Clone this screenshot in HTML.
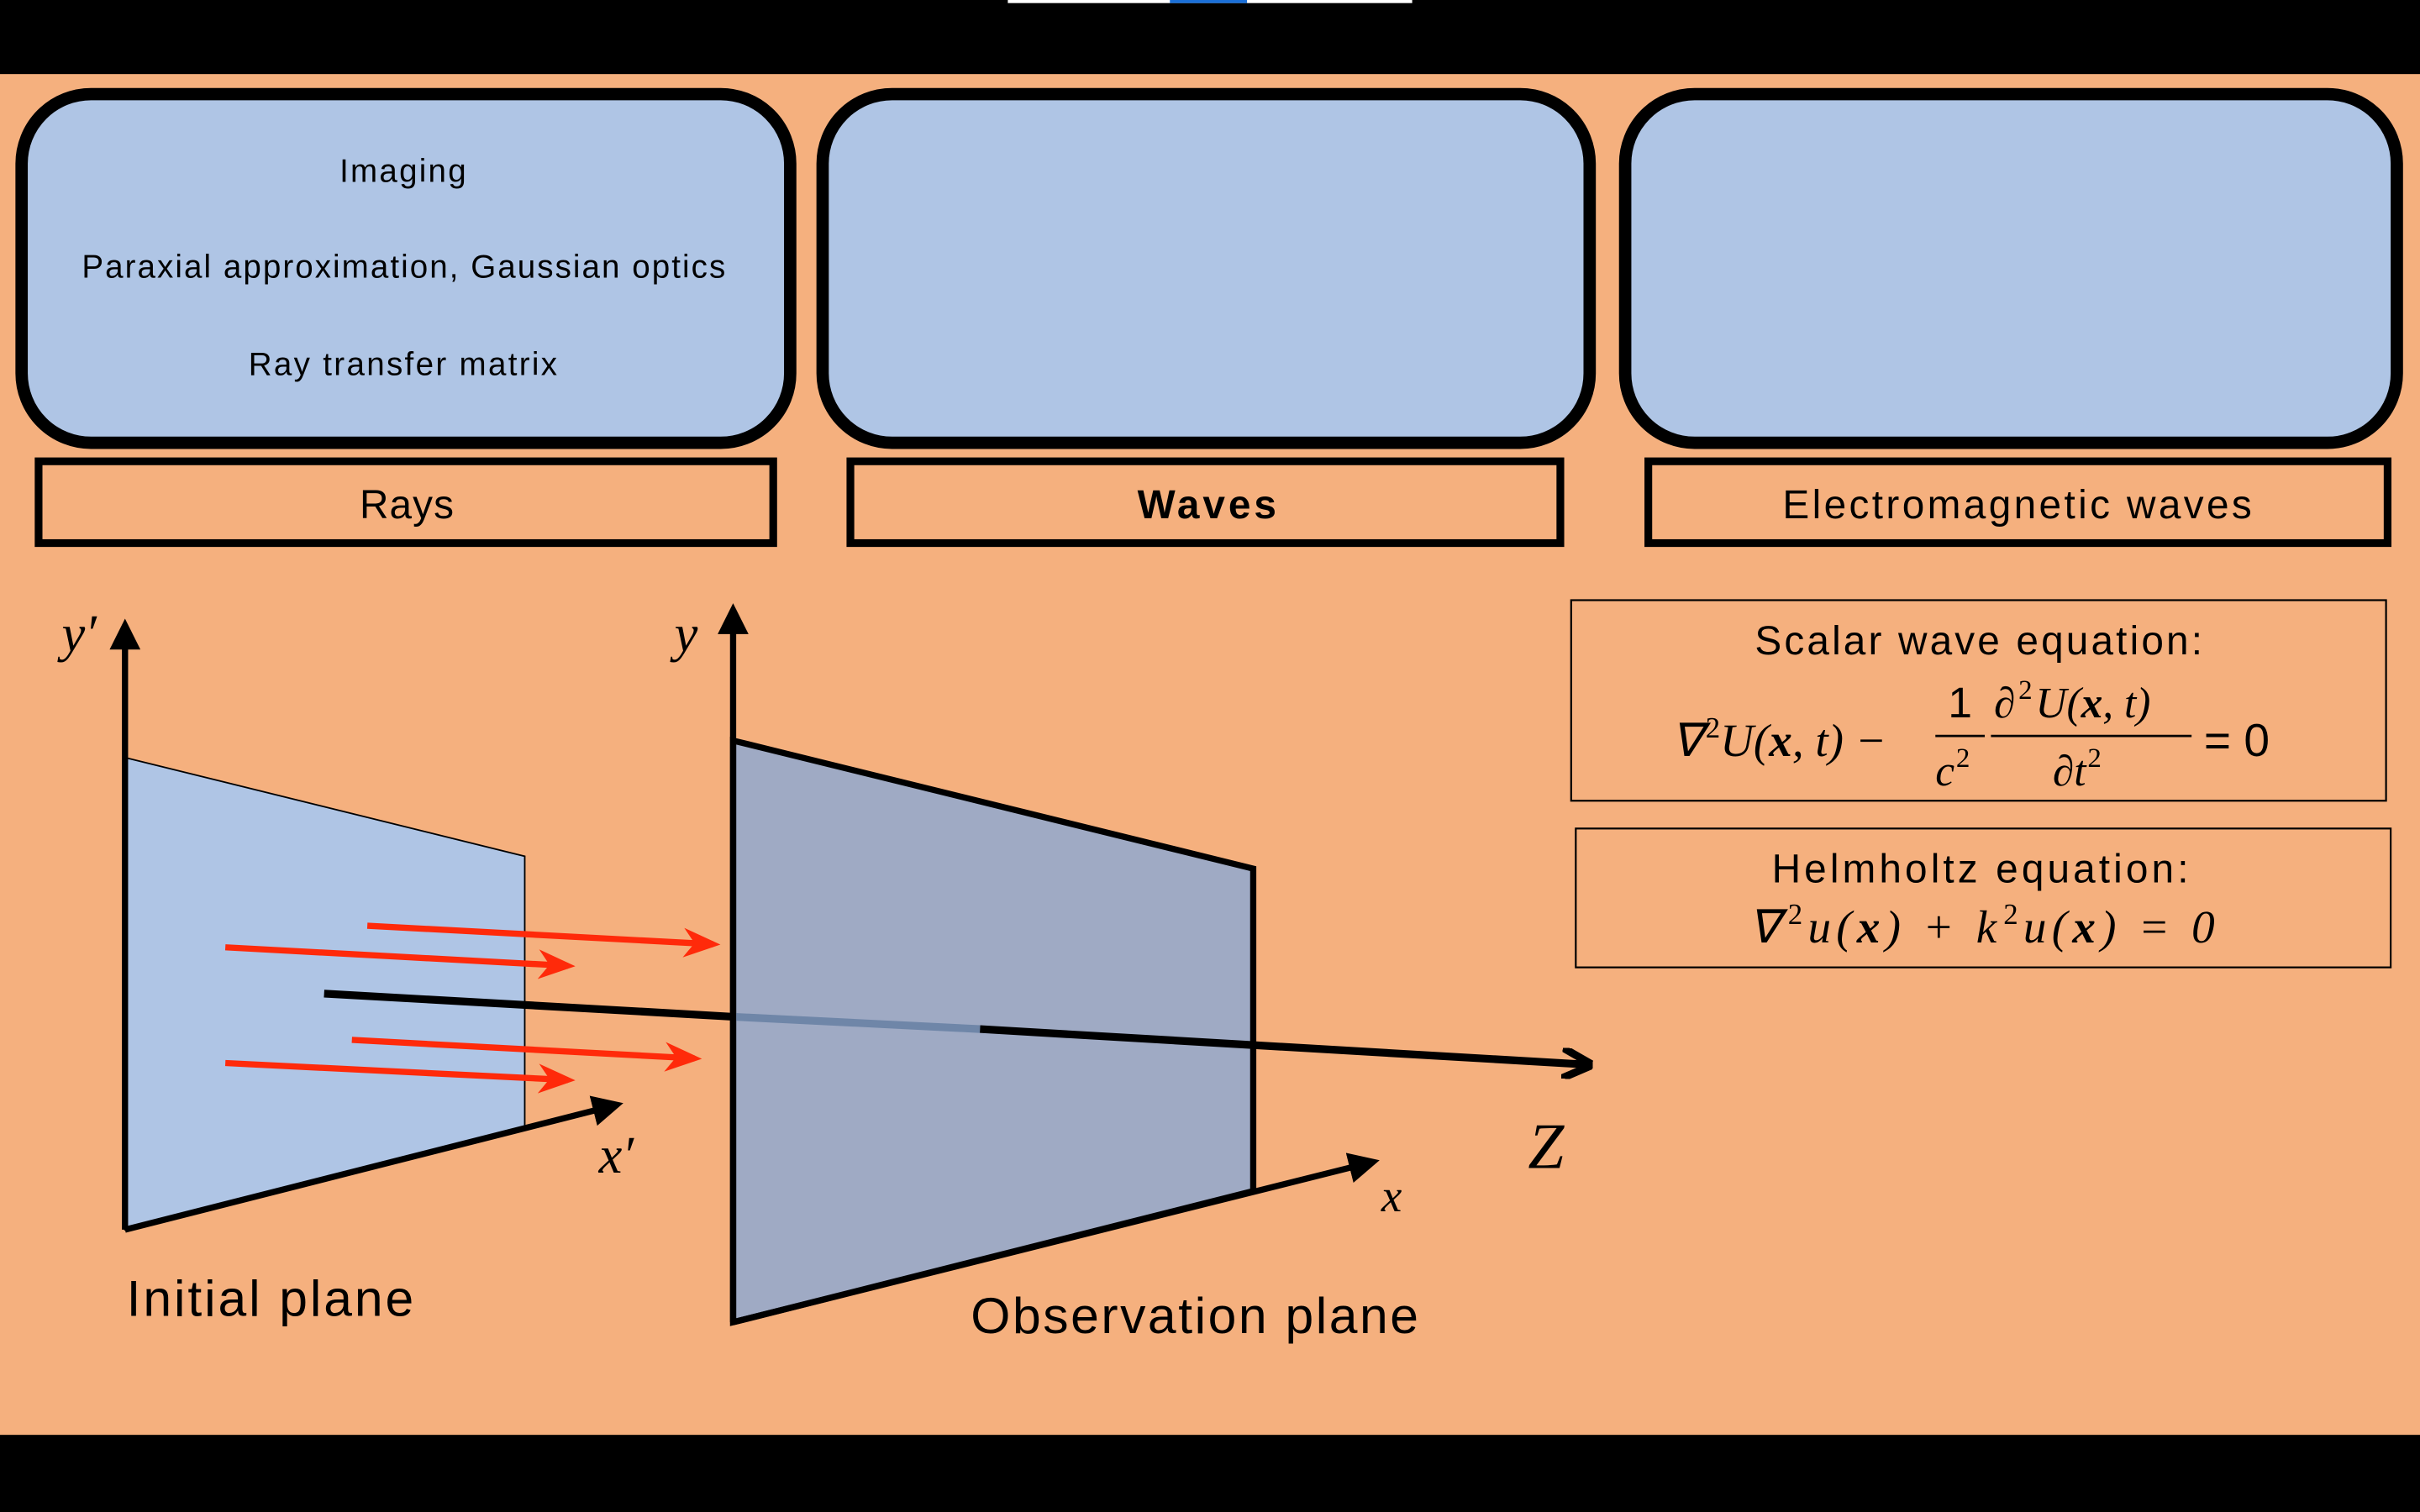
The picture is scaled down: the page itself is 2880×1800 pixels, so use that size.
<!DOCTYPE html>
<html><head><meta charset="utf-8"><style>
html,body{margin:0;padding:0;background:#000;}
svg{display:block;}
text{font-family:"Liberation Sans",sans-serif;fill:#000;}
.m{font-family:"Liberation Serif",serif;font-style:italic;}
</style></head><body>
<svg width="2880" height="1800" viewBox="0 0 1568 980" xmlns="http://www.w3.org/2000/svg">
<defs>
<marker id="ab" viewBox="0 0 10 10" refX="8" refY="5" markerWidth="5" markerHeight="5" orient="auto"><path d="M0,0 L10,5 L0,10 z" fill="#000"/></marker>
<marker id="ar" viewBox="0 0 10 10" refX="8" refY="5" markerWidth="6" markerHeight="6" orient="auto"><path d="M0,1 L10,5 L0,9 L3,5 z" fill="#ff2a0a"/></marker>
<marker id="az" viewBox="0 0 10 10" refX="8" refY="5" markerWidth="4" markerHeight="4" orient="auto"><path d="M0,0 L10,5 L0,10" fill="none" stroke="#000" stroke-width="2.5"/></marker>
</defs>
<rect x="0" y="0" width="1568" height="980" fill="#000"/>
<rect x="653" y="0" width="262" height="2" fill="#fff"/>
<rect x="758" y="0" width="50" height="2" fill="#1a6fd8"/>
<rect x="0" y="48" width="1568" height="882" fill="#F5B07E"/>

<g fill="#AFC5E5" stroke="#000" stroke-width="8">
<rect x="14" y="61" width="498" height="226" rx="45"/>
<rect x="533" y="61" width="497" height="226" rx="45"/>
<rect x="1053" y="61" width="500" height="226" rx="45"/>
</g>
<g fill="none" stroke="#000" stroke-width="5">
<rect x="25" y="299" width="476" height="53"/>
<rect x="551" y="299" width="460" height="53"/>
<rect x="1068" y="299" width="479" height="53"/>
</g>
<g font-size="21">
<text x="220" y="118" textLength="82">Imaging</text>
<text x="53" y="180" textLength="417">Paraxial approximation, Gaussian optics</text>
<text x="161" y="243" textLength="200">Ray transfer  matrix</text>
</g>
<g font-size="26">
<text x="233" y="336" textLength="61">Rays</text>
<text x="737" y="336" textLength="90" font-weight="bold">Waves</text>
<text x="1155" y="336" textLength="304">Electromagnetic waves</text>
</g>

<rect x="1018" y="389" width="528" height="130" fill="none" stroke="#000" stroke-width="1.2"/>
<rect x="1021" y="537" width="528" height="90" fill="none" stroke="#000" stroke-width="1.2"/>
<text x="1137" y="424" font-size="26" textLength="290">Scalar wave equation:</text>
<text x="1083" y="490" font-size="30" class="m">∇<tspan font-size="19" dy="-12" font-style="normal" dx="2">2</tspan><tspan dy="12">U(</tspan><tspan font-weight="bold">x</tspan>, t) − </text>
<text x="1270" y="465" font-size="28" font-family="Liberation Serif" text-anchor="middle">1</text>
<line x1="1254" y1="477" x2="1286" y2="477" stroke="#000" stroke-width="1.5"/>
<text x="1254" y="509" font-size="28" class="m">c<tspan font-size="18" dy="-12" font-style="normal" dx="1">2</tspan></text>
<text x="1292" y="465" font-size="28" class="m">∂<tspan font-size="18" dy="-12" font-style="normal" dx="2">2</tspan><tspan dy="12" dx="2">U(</tspan><tspan font-weight="bold">x</tspan>, t)</text>
<line x1="1290" y1="477" x2="1420" y2="477" stroke="#000" stroke-width="1.5"/>
<text x="1330" y="509" font-size="28" class="m">∂t<tspan font-size="18" dy="-12" font-style="normal" dx="1">2</tspan></text>
<text x="1428" y="490" font-size="30" font-family="Liberation Serif">= 0</text>
<text x="1148" y="572" font-size="26" textLength="270">Helmholtz equation:</text>
<text x="1133" y="611" font-size="30" class="m" textLength="302">∇<tspan font-size="19" dy="-12" font-style="normal" dx="2">2</tspan><tspan dy="12">u(</tspan><tspan font-weight="bold">x</tspan>) + k<tspan font-size="19" dy="-12" font-style="normal" dx="1">2</tspan><tspan dy="12">u(</tspan><tspan font-weight="bold">x</tspan>) = 0</text>

<polygon points="81,491 340,555 340,731 81,797" fill="#AFC5E5" stroke="#000" stroke-width="1"/>
<line x1="81" y1="797" x2="81" y2="405" stroke="#000" stroke-width="4" marker-end="url(#ab)"/>
<line x1="81" y1="797" x2="400" y2="716" stroke="#000" stroke-width="4" marker-end="url(#ab)"/>
<line x1="210" y1="644" x2="475" y2="659" stroke="#000" stroke-width="5"/>
<g stroke="#ff2a0a" stroke-width="4">
<line x1="146" y1="614" x2="368" y2="626" marker-end="url(#ar)"/>
<line x1="238" y1="600" x2="462" y2="612" marker-end="url(#ar)"/>
<line x1="146" y1="689" x2="368" y2="700" marker-end="url(#ar)"/>
<line x1="228" y1="674" x2="450" y2="686" marker-end="url(#ar)"/>
</g>
<polygon points="475,480 812,563 812,772 475,857" fill="#9FAAC4" stroke="#000" stroke-width="4"/>
<line x1="475" y1="659" x2="635" y2="667" stroke="#6F86A8" stroke-width="5"/>
<line x1="635" y1="667" x2="1028" y2="690" stroke="#000" stroke-width="5" marker-end="url(#az)"/>
<line x1="475" y1="857" x2="475" y2="395" stroke="#000" stroke-width="4" marker-end="url(#ab)"/>
<line x1="475" y1="857" x2="890" y2="753" stroke="#000" stroke-width="4" marker-end="url(#ab)"/>

<text x="40" y="422" font-size="34" class="m">y′</text>
<text x="437" y="422" font-size="34" class="m">y</text>
<text x="388" y="760" font-size="34" class="m">x′</text>
<text x="895" y="785" font-size="30" class="m">x</text>
<text x="990" y="757" font-size="42" class="m">Z</text>
<text x="82" y="853" font-size="33" textLength="186">Initial plane</text>
<text x="629" y="864" font-size="33" textLength="290">Observation plane</text>
</svg>
</body></html>
